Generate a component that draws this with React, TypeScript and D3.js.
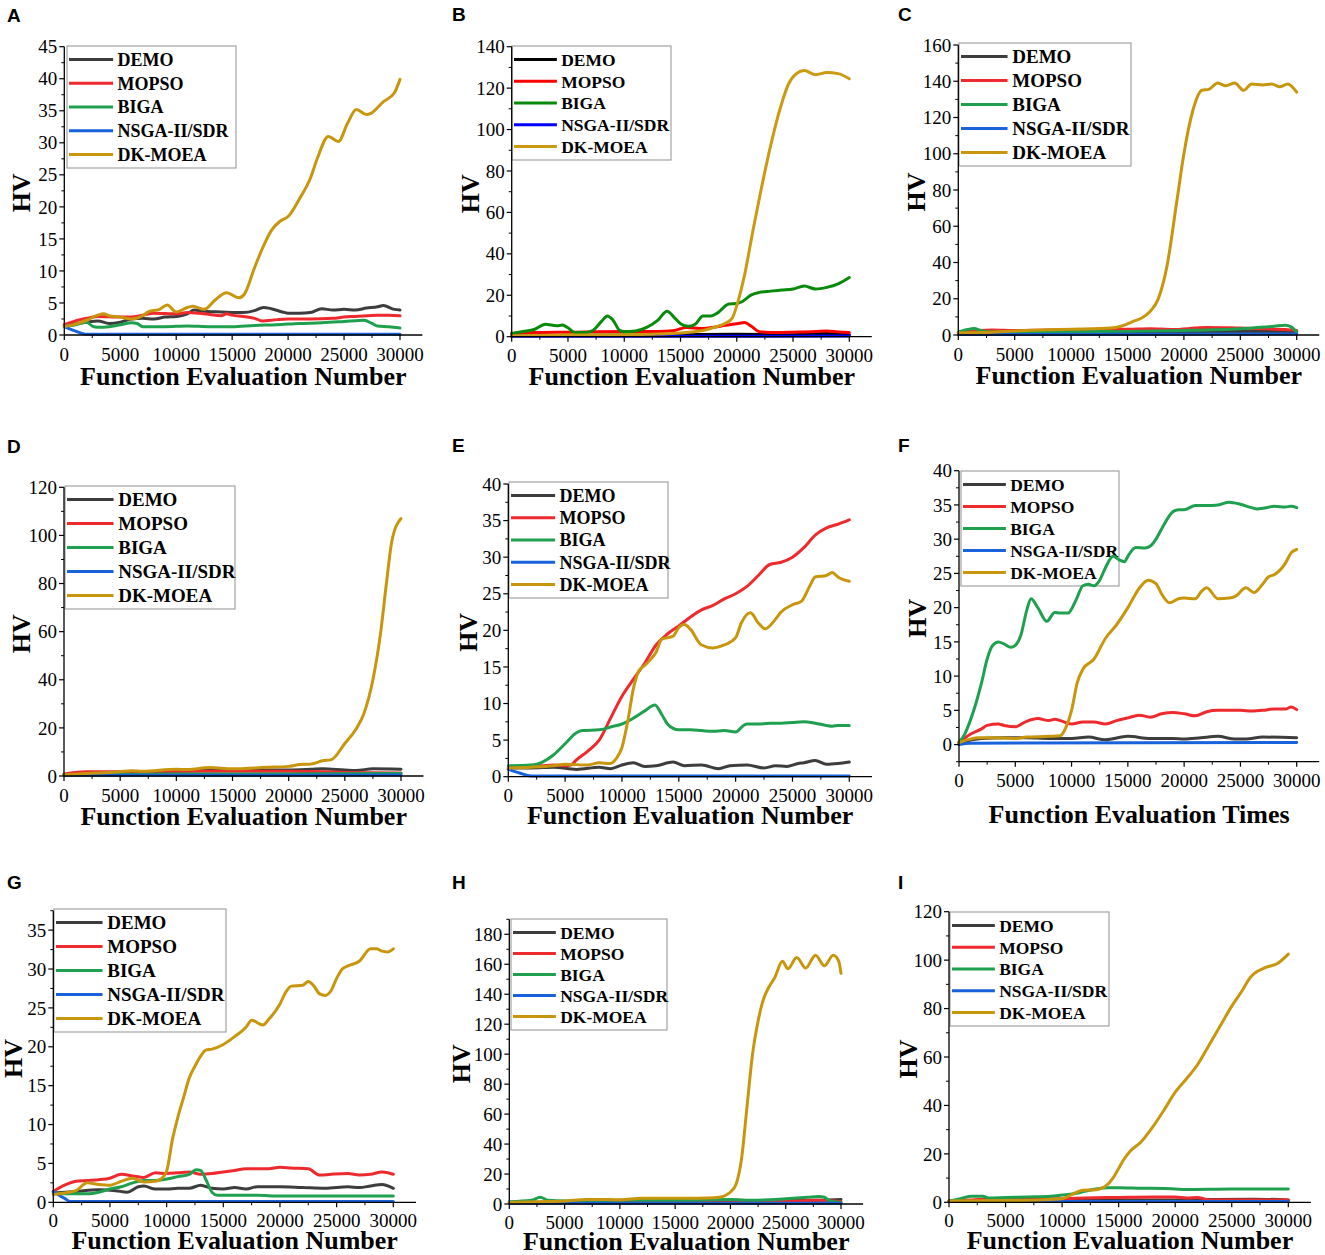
import React from 'react';
import * as d3 from 'd3';

type Pt = [number, number];

const ALGORITHMS = ['DEMO', 'MOPSO', 'BIGA', 'NSGA-II/SDR', 'DK-MOEA'];
const COLORS = ['#3d3d3d', '#ee2a2e', '#1fa04f', '#1862db', '#c8960c'];
const COLORS_B = ['#000000', '#ff0000', '#0a8a0a', '#0000ff', '#cc9a10'];
const X_TICKS = [0, 5000, 10000, 15000, 20000, 25000, 30000];

// ---- A
const A_YTICKS = [0, 5, 10, 15, 20, 25, 30, 35, 40, 45];
const A_DEMO: Pt[] = [[0, 1.5], [1000, 1.7], [2000, 2.0], [3000, 2.2], [4000, 1.8], [5000, 2.0], [6000, 2.5], [7000, 2.6], [8000, 2.5], [9000, 2.8], [10000, 2.9], [11000, 3.3], [11600, 3.9], [12500, 3.7], [14000, 3.6], [16000, 3.5], [17000, 3.8], [17800, 4.3], [18500, 4.1], [19500, 3.6], [20000, 3.4], [21000, 3.4], [22000, 3.5], [23000, 4.1], [24000, 3.9], [25000, 4.0], [26000, 3.9], [27000, 4.2], [28000, 4.4], [28500, 4.6], [29500, 4.0], [30000, 3.9]];
const A_MOPSO: Pt[] = [[0, 1.6], [1000, 2.2], [2000, 2.6], [3000, 2.9], [5000, 2.8], [6000, 2.8], [7000, 3.1], [8000, 3.4], [10000, 3.3], [11000, 3.5], [12000, 3.4], [13000, 3.2], [14000, 3.0], [14500, 3.3], [15000, 3.1], [16000, 2.9], [17000, 2.6], [17700, 2.2], [19000, 2.4], [20000, 2.5], [22000, 2.5], [24000, 2.6], [25000, 2.8], [26000, 2.9], [28000, 3.1], [29000, 3.1], [30000, 3.0]];
const A_BIGA: Pt[] = [[0, 1.3], [1000, 1.6], [2000, 2.0], [2500, 1.4], [3000, 1.2], [4000, 1.3], [5000, 1.6], [6000, 1.9], [6500, 1.8], [7000, 1.3], [9000, 1.3], [11000, 1.4], [13000, 1.3], [15000, 1.3], [17000, 1.5], [19000, 1.6], [21000, 1.8], [23000, 1.9], [25000, 2.1], [26800, 2.3], [27500, 1.8], [28000, 1.4], [29000, 1.3], [30000, 1.1]];
const A_NSGA: Pt[] = [[0, 1.3], [1000, 0.6], [2000, 0.1], [30000, 0.1]];
const A_DKMOEA: Pt[] = [[0, 1.3], [1000, 1.7], [2000, 2.3], [3000, 3.1], [3500, 3.3], [4000, 3.0], [5000, 2.8], [6000, 2.5], [7000, 3.0], [7500, 3.6], [8500, 4.0], [9200, 4.7], [10000, 3.6], [11000, 4.3], [11500, 4.5], [12500, 4.0], [13500, 5.5], [14500, 6.6], [15600, 5.8], [16100, 6.4], [17000, 10.5], [17700, 13.5], [18500, 16.3], [19300, 17.8], [20000, 18.5], [21000, 21.2], [22000, 24.5], [22600, 27.5], [23600, 31], [24500, 30.2], [25300, 33], [26100, 35.2], [27000, 34.4], [27400, 34.6], [28500, 36.4], [29500, 37.8], [30000, 39.9]];

// ---- B
const B_YTICKS = [0, 20, 40, 60, 80, 100, 120, 140];
const B_DEMO: Pt[] = [[0, 0.5], [10000, 0.8], [20000, 1.2], [25000, 1.0], [28000, 1.5], [30000, 1.0]];
const B_MOPSO: Pt[] = [[0, 1.5], [2000, 2.0], [5000, 2.2], [10000, 2.5], [13000, 2.5], [14500, 3.0], [15500, 4.5], [17000, 4.0], [18000, 4.6], [19000, 5.5], [20000, 6.2], [20700, 6.8], [21300, 5.0], [22000, 2.4], [23000, 2.0], [25000, 2.2], [27000, 2.5], [28000, 2.8], [29000, 2.3], [30000, 2.0]];
const B_BIGA: Pt[] = [[0, 1.5], [1000, 2.5], [2000, 3.5], [3000, 6.0], [4000, 5.3], [4500, 5.6], [5000, 4.3], [5600, 2.0], [6500, 2.0], [7200, 3.0], [8000, 7.5], [8500, 10.0], [9000, 8.0], [9600, 3.0], [10000, 2.5], [11000, 2.8], [12000, 4.5], [13000, 8.0], [13800, 12.3], [14500, 9.0], [15000, 6.3], [15700, 5.0], [16300, 6.0], [17000, 10.0], [17700, 10.0], [18300, 11.5], [19300, 15.8], [20000, 16.0], [20500, 17.0], [21300, 20.2], [22000, 21.4], [23000, 22.0], [24000, 22.5], [25000, 23.0], [26000, 24.5], [27000, 23.0], [28000, 23.8], [29000, 25.5], [30000, 28.6]];
const B_NSGA: Pt[] = [[0, 0.2], [30000, 0.3]];
const B_DKMOEA: Pt[] = [[0, 0.5], [5000, 0.8], [10000, 1.0], [13000, 1.3], [15000, 1.8], [16000, 2.3], [17000, 3.0], [18000, 4.5], [19000, 6.5], [19600, 9], [20000, 15], [20700, 30], [21500, 53], [22200, 72], [23000, 92], [23900, 111], [24600, 122], [25300, 127], [26000, 128.5], [27000, 126.5], [28000, 127.5], [29000, 127], [30000, 124.5]];

// ---- C
const C_YTICKS = [0, 20, 40, 60, 80, 100, 120, 140, 160];
const C_DEMO: Pt[] = [[0, 1.5], [10000, 1.8], [20000, 2.0], [30000, 2.0]];
const C_MOPSO: Pt[] = [[0, 1.5], [3000, 2.8], [5000, 2.5], [10000, 3.0], [15000, 3.2], [17000, 3.5], [19000, 3.0], [21000, 3.8], [22000, 4.2], [25000, 3.8], [27000, 3.5], [29000, 3.0], [30000, 2.5]];
const C_BIGA: Pt[] = [[0, 1.5], [800, 3.0], [1400, 3.6], [2000, 2.5], [2600, 1.8], [5000, 1.5], [10000, 1.8], [15000, 2.0], [20000, 2.5], [25000, 3.5], [28000, 4.8], [29000, 5.4], [29500, 4.5], [30000, 1.5]];
const C_NSGA: Pt[] = [[0, 0.3], [30000, 0.5]];
const C_DKMOEA: Pt[] = [[0, 1.2], [3000, 1.5], [6000, 2.5], [9000, 3.0], [12000, 3.5], [13500, 3.8], [14500, 5], [15500, 7.5], [16300, 9.5], [17000, 13], [17700, 19.5], [18500, 38], [19400, 75], [20000, 100], [20800, 124], [21600, 135], [22200, 135.5], [23000, 139], [23700, 137.5], [24500, 139], [25300, 135], [26000, 138.5], [27000, 138], [27800, 138.5], [28500, 137], [29200, 138.5], [30000, 134]];

// ---- D
const D_YTICKS = [0, 20, 40, 60, 80, 100, 120];
const D_DEMO: Pt[] = [[0, 0.5], [5000, 1.5], [10000, 2.0], [15000, 2.5], [20000, 2.5], [22000, 2.8], [23000, 3.0], [25000, 2.5], [26000, 2.3], [27500, 3.0], [30000, 2.8]];
const D_MOPSO: Pt[] = [[0, 0.8], [2000, 1.8], [5000, 1.8], [10000, 2.0], [15000, 2.0], [20000, 2.0], [25000, 1.5], [30000, 1.2]];
const D_BIGA: Pt[] = [[0, 0.5], [10000, 0.8], [30000, 1.0]];
const D_NSGA: Pt[] = [[0, 0.3], [30000, 0.4]];
const D_DKMOEA: Pt[] = [[0, 0.5], [2000, 1], [5000, 1.8], [6000, 2.2], [7000, 2.0], [10000, 2.8], [11000, 2.7], [13000, 3.5], [15000, 3.0], [18000, 3.6], [20000, 4.0], [21000, 4.8], [22000, 5.0], [23000, 6.3], [23800, 6.8], [25000, 13.5], [26000, 19.5], [26700, 26], [27500, 40], [28200, 60], [28700, 80], [29200, 98], [30000, 107]];

// ---- E
const E_YTICKS = [0, 5, 10, 15, 20, 25, 30, 35, 40];
const E_DEMO: Pt[] = [[0, 1.2], [2000, 1.2], [4000, 1.3], [6000, 1.0], [8000, 1.3], [9000, 1.1], [10000, 1.6], [11000, 1.9], [12000, 1.4], [13000, 1.5], [14500, 2.0], [15500, 1.5], [17000, 1.6], [18500, 1.1], [19500, 1.5], [21000, 1.6], [22500, 1.2], [23500, 1.5], [24500, 1.4], [25500, 1.8], [26000, 1.9], [27000, 2.2], [28000, 1.7], [29000, 1.8], [30000, 2.0]];
const E_MOPSO: Pt[] = [[0, 1.2], [2000, 1.4], [3000, 1.5], [4000, 1.6], [5000, 1.5], [5500, 1.6], [6000, 2.3], [7000, 3.5], [8000, 5], [9000, 8], [10000, 11], [11000, 13.3], [12000, 15.5], [13000, 18], [14000, 19.5], [15000, 20.6], [16000, 21.8], [17000, 22.8], [18000, 23.4], [19000, 24.3], [20000, 25], [21000, 26], [22000, 27.5], [23000, 29], [24000, 29.3], [25000, 30], [26000, 31.3], [27000, 33], [28000, 34], [29000, 34.5], [30000, 35.1]];
const E_BIGA: Pt[] = [[0, 1.5], [2000, 1.6], [2500, 1.7], [3000, 2.0], [4000, 3.0], [5000, 4.5], [6000, 6.0], [6500, 6.3], [8000, 6.4], [9000, 6.8], [10000, 7.2], [11000, 8.0], [12000, 9.0], [12900, 9.8], [13500, 8.5], [14000, 7.2], [14500, 6.6], [15000, 6.4], [16000, 6.4], [17000, 6.3], [18000, 6.2], [19000, 6.3], [20000, 6.1], [20700, 7.0], [21000, 7.2], [22000, 7.2], [23000, 7.3], [24000, 7.3], [25000, 7.4], [26000, 7.5], [27000, 7.3], [28000, 7.0], [28500, 6.9], [29000, 7.0], [30000, 7.0]];
const E_NSGA: Pt[] = [[0, 1.0], [1000, 0.5], [2000, 0.1], [30000, 0.1]];
const E_DKMOEA: Pt[] = [[0, 1.2], [2000, 1.3], [4000, 1.5], [5000, 1.7], [7000, 1.6], [8000, 1.9], [9000, 1.8], [9500, 2.5], [10000, 4], [10500, 7.5], [11000, 12], [11500, 14.5], [12000, 15.2], [12500, 16], [13000, 17], [13500, 18.8], [14500, 19.2], [15000, 20.4], [15500, 20.8], [16000, 20.2], [17000, 18], [18000, 17.6], [19000, 18], [20000, 19], [20500, 21], [21300, 22.4], [22000, 21], [22600, 20.2], [23500, 21.5], [24000, 22.5], [25000, 23.5], [25800, 24], [26500, 26], [27000, 27.3], [28000, 27.5], [28500, 27.9], [29000, 27.3], [30000, 26.7]];

// ---- F
const F_YTICKS = [0, 5, 10, 15, 20, 25, 30, 35, 40];
const F_DEMO: Pt[] = [[0, 0.3], [2000, 0.9], [4000, 1.0], [6000, 1.0], [8000, 0.9], [10000, 0.9], [11500, 1.1], [13000, 0.7], [15000, 1.2], [17000, 0.9], [19000, 0.9], [20000, 0.8], [21500, 1.0], [23000, 1.2], [24500, 0.8], [25500, 0.8], [27000, 1.1], [30000, 1.0]];
const F_MOPSO: Pt[] = [[0, 0.3], [1000, 1.5], [2000, 2.3], [2500, 2.8], [3500, 3.0], [4000, 2.8], [5000, 2.6], [6000, 3.4], [7000, 3.8], [8000, 3.5], [8500, 3.7], [9000, 3.5], [10000, 3.0], [11000, 3.3], [12000, 3.3], [13000, 3.0], [14000, 3.5], [15000, 3.9], [16000, 4.3], [17000, 4.0], [18000, 4.5], [19000, 4.7], [20000, 4.5], [21000, 4.2], [22000, 4.8], [23000, 5.0], [25000, 5.0], [26000, 4.9], [27000, 5.0], [28000, 5.2], [29000, 5.2], [29500, 5.5], [30000, 5.1]];
const F_BIGA: Pt[] = [[0, 0.3], [500, 1.5], [1000, 3.5], [1500, 6], [2000, 9], [2500, 12.5], [3000, 14.5], [3500, 15], [4000, 14.7], [4600, 14.2], [5000, 14.5], [5500, 16], [6000, 19.5], [6400, 21.3], [7000, 20], [7800, 18], [8500, 19.3], [9000, 19.2], [9700, 19.2], [10000, 19.8], [10500, 21.5], [11000, 23.2], [11500, 23.4], [12000, 23.2], [12500, 24], [13000, 25.8], [13700, 27.5], [14200, 27], [14700, 26.7], [15000, 27.5], [15700, 28.8], [16500, 28.7], [17000, 29], [17500, 30], [18000, 31.5], [19000, 34], [19500, 34.3], [20000, 34.3], [21000, 34.9], [22000, 34.9], [23000, 35], [24000, 35.4], [25000, 35.1], [26000, 34.6], [26500, 34.4], [27000, 34.5], [28000, 34.8], [29000, 34.7], [29500, 34.8], [30000, 34.6]];
const F_NSGA: Pt[] = [[0, 0.0], [1000, 0.2], [30000, 0.3]];
const F_DKMOEA: Pt[] = [[0, 0.3], [1000, 0.8], [1700, 1.0], [3000, 1.0], [5000, 0.9], [6000, 1.1], [8000, 1.2], [9000, 1.3], [9500, 2.5], [10000, 5], [10500, 9], [11000, 11], [12000, 12.5], [13000, 15.5], [14000, 17.5], [15000, 20], [16000, 22.8], [16800, 24], [17500, 23.5], [18000, 22], [18700, 20.7], [19500, 21.3], [20000, 21.4], [21000, 21.3], [21500, 22.3], [22000, 22.9], [23000, 21.3], [24000, 21.4], [24500, 21.6], [25500, 22.9], [26200, 22.2], [27000, 23.5], [27500, 24.5], [28000, 24.8], [29000, 26.5], [29500, 28], [30000, 28.5]];

// ---- G
const G_YTICKS = [0, 5, 10, 15, 20, 25, 30, 35];
const G_DEMO: Pt[] = [[0, 1.2], [2000, 1.4], [4000, 1.6], [5500, 1.5], [6500, 1.3], [7500, 2.0], [8000, 2.1], [9000, 1.7], [10000, 1.7], [11000, 1.8], [12000, 1.8], [13000, 2.2], [14000, 1.8], [15000, 1.7], [16000, 1.9], [17000, 1.7], [18000, 2.0], [20000, 2.0], [22000, 1.9], [24000, 1.8], [26000, 2.0], [27000, 1.9], [28000, 2.1], [29000, 2.3], [30000, 1.8]];
const G_MOPSO: Pt[] = [[0, 1.4], [1000, 2.2], [2000, 2.7], [3000, 2.8], [4000, 2.9], [5000, 3.1], [6000, 3.6], [7000, 3.4], [8000, 3.2], [9000, 3.8], [10000, 3.7], [11000, 3.8], [12000, 3.9], [13000, 3.6], [14000, 3.7], [15000, 3.9], [16000, 4.1], [17000, 4.3], [19000, 4.3], [20000, 4.5], [21000, 4.4], [22500, 4.3], [23500, 3.5], [24500, 3.6], [26000, 3.7], [27000, 3.5], [28000, 3.6], [29000, 3.9], [30000, 3.6]];
const G_BIGA: Pt[] = [[0, 1.2], [1000, 1.1], [3000, 1.1], [4000, 1.3], [5000, 1.7], [6000, 2.0], [7000, 2.5], [8000, 2.8], [9000, 2.8], [10000, 3.0], [11000, 3.3], [12000, 3.6], [12600, 4.2], [13000, 4.1], [13500, 2.8], [14000, 1.3], [14500, 0.9], [16000, 0.9], [18000, 0.9], [20000, 0.8], [30000, 0.8]];
const G_NSGA: Pt[] = [[0, 1.4], [1000, 0.5], [1500, 0.1], [30000, 0.1]];
const G_DKMOEA: Pt[] = [[0, 1.0], [1000, 1.2], [2000, 1.5], [3000, 2.5], [4000, 2.3], [5000, 2.2], [6000, 2.7], [7000, 3.1], [8000, 2.6], [9000, 2.7], [9500, 3.0], [10000, 4], [10500, 8], [11000, 11], [11500, 13.5], [12000, 16], [12500, 17.5], [13000, 18.8], [13500, 19.6], [14000, 19.7], [15000, 20.3], [16000, 21.3], [17000, 22.5], [17500, 23.4], [18500, 22.8], [19000, 23.5], [20000, 25.5], [20500, 27], [21000, 27.8], [22000, 27.9], [22500, 28.4], [23000, 27.8], [23500, 26.8], [24000, 26.6], [24500, 27.2], [25000, 28.8], [25500, 30], [26000, 30.4], [27000, 31], [28000, 32.6], [28500, 32.6], [29000, 32.3], [29500, 32.2], [30000, 32.6]];

// ---- H
const H_YTICKS = [0, 20, 40, 60, 80, 100, 120, 140, 160, 180];
const H_DEMO: Pt[] = [[0, 1.0], [10000, 1.5], [20000, 2.0], [28000, 2.5], [30000, 3.0]];
const H_MOPSO: Pt[] = [[0, 1.0], [10000, 1.5], [20000, 2.5], [25000, 2.0], [28000, 2.5], [30000, 1.5]];
const H_BIGA: Pt[] = [[0, 1.5], [2000, 2.5], [2800, 4.5], [3500, 2.5], [5000, 2.0], [10000, 2.5], [15000, 2.5], [20000, 3.0], [22000, 2.5], [25000, 3.5], [27000, 4.5], [28000, 5.0], [28500, 4.5], [29000, 2.0], [30000, 1.0]];
const H_NSGA: Pt[] = [[0, 0.5], [30000, 0.5]];
const H_DKMOEA: Pt[] = [[0, 1.0], [3000, 1.5], [5000, 2.0], [7000, 3.0], [9000, 3.0], [10000, 2.8], [12000, 3.8], [14000, 3.8], [16000, 3.8], [18000, 4.0], [19000, 4.5], [19500, 5.5], [20000, 8], [20500, 13], [21000, 30], [21500, 65], [22000, 100], [22500, 122], [23000, 137], [23500, 145], [24000, 151], [24700, 162], [25200, 157], [26000, 164.5], [26800, 157.5], [27700, 166], [28500, 159], [29300, 166], [29800, 162], [30000, 154]];

// ---- I
const I_YTICKS = [0, 20, 40, 60, 80, 100, 120];
const I_DEMO: Pt[] = [[0, 0.5], [10000, 1.0], [20000, 1.0], [27000, 1.3], [30000, 1.0]];
const I_MOPSO: Pt[] = [[0, 0.5], [2000, 1.0], [4000, 1.5], [10000, 1.5], [12000, 1.8], [15000, 2.0], [18000, 2.2], [20000, 2.2], [21000, 1.8], [22000, 2.0], [22500, 1.5], [23000, 1.0], [30000, 1.0]];
const I_BIGA: Pt[] = [[0, 0.5], [1000, 1.5], [2000, 2.5], [3000, 2.5], [3500, 1.8], [5000, 2.0], [7000, 2.2], [9000, 2.5], [10000, 3.0], [11000, 3.5], [12000, 4.5], [13000, 5.5], [14000, 6.0], [15000, 6.0], [17000, 5.8], [19000, 5.7], [20000, 5.5], [21000, 5.3], [25000, 5.5], [30000, 5.5]];
const I_NSGA: Pt[] = [[0, 0.3], [30000, 0.3]];
const I_DKMOEA: Pt[] = [[0, 0.5], [5000, 0.7], [8000, 1.0], [10000, 1.5], [11000, 3.5], [11800, 5], [13000, 5.2], [13800, 6.5], [14500, 10], [15000, 14], [15500, 18], [16000, 21], [17000, 25], [18000, 31], [19000, 38], [20000, 45.5], [21000, 51], [22000, 57], [23000, 65], [24000, 73], [25000, 81], [26000, 88], [26500, 92], [27000, 94.5], [28000, 97], [29000, 98.5], [30000, 102.5]];

interface PanelSpec {
  letter: string;
  letterPos: [number, number];
  series: Pt[][];
  colors: string[];
  yTicks: number[];
  yDomain: [number, number];
  yRange: [number, number]; // px for yDomain[0], yDomain[1]
  ox: number;
  x30: number;
  legend: { x: number; y: number; w: number; h: number; fs: number };
  xTitle: string;
  tickDy: number;
  titleDy: number;
  hvDx: number;
}

const PANELS: PanelSpec[] = [
  { letter: 'A', letterPos: [7, 22], series: [A_DEMO, A_MOPSO, A_BIGA, A_NSGA, A_DKMOEA], colors: COLORS, yTicks: A_YTICKS, yDomain: [0, 45], yRange: [335, 46.7], ox: 64.3, x30: 400, legend: { x: 67, y: 46, w: 169, h: 122, fs: 18 }, xTitle: 'Function Evaluation Number', tickDy: 26, titleDy: 50, hvDx: -43 },
  { letter: 'B', letterPos: [452, 21], series: [B_DEMO, B_MOPSO, B_BIGA, B_NSGA, B_DKMOEA], colors: COLORS_B, yTicks: B_YTICKS, yDomain: [0, 140], yRange: [336.7, 46.7], ox: 511.7, x30: 849.3, legend: { x: 512, y: 46, w: 159, h: 114, fs: 17.5 }, xTitle: 'Function Evaluation Number', tickDy: 25, titleDy: 48, hvDx: -42 },
  { letter: 'C', letterPos: [898, 21], series: [C_DEMO, C_MOPSO, C_BIGA, C_NSGA, C_DKMOEA], colors: COLORS, yTicks: C_YTICKS, yDomain: [0, 160], yRange: [335, 45], ox: 958.3, x30: 1296.7, legend: { x: 959, y: 43, w: 172, h: 123, fs: 19 }, xTitle: 'Function Evaluation Number', tickDy: 26, titleDy: 49, hvDx: -42 },
  { letter: 'D', letterPos: [7, 453], series: [D_DEMO, D_MOPSO, D_BIGA, D_NSGA, D_DKMOEA], colors: COLORS, yTicks: D_YTICKS, yDomain: [0, 120], yRange: [776, 487.3], ox: 64, x30: 401, legend: { x: 65, y: 486, w: 170, h: 123, fs: 19 }, xTitle: 'Function Evaluation Number', tickDy: 26, titleDy: 49, hvDx: -43 },
  { letter: 'E', letterPos: [452, 452], series: [E_DEMO, E_MOPSO, E_BIGA, E_NSGA, E_DKMOEA], colors: COLORS, yTicks: E_YTICKS, yDomain: [0, 40], yRange: [776.7, 484], ox: 508.3, x30: 849.3, legend: { x: 509, y: 482, w: 159, h: 116, fs: 18 }, xTitle: 'Function Evaluation Number', tickDy: 25, titleDy: 47, hvDx: -40 },
  { letter: 'F', letterPos: [898, 452], series: [F_DEMO, F_MOPSO, F_BIGA, F_NSGA, F_DKMOEA], colors: COLORS, yTicks: F_YTICKS, yDomain: [-2.5, 40], yRange: [761.7, 470.7], ox: 959, x30: 1296.7, legend: { x: 961, y: 471, w: 158, h: 115, fs: 17.5 }, xTitle: 'Function Evaluation Times', tickDy: 25, titleDy: 61, hvDx: -42 },
  { letter: 'G', letterPos: [7, 889], series: [G_DEMO, G_MOPSO, G_BIGA, G_NSGA, G_DKMOEA], colors: COLORS, yTicks: G_YTICKS, yDomain: [0, 37.5], yRange: [1202.3, 910.7], ox: 53.3, x30: 393.3, legend: { x: 54, y: 909, w: 172, h: 123, fs: 19 }, xTitle: 'Function Evaluation Number', tickDy: 25, titleDy: 47, hvDx: -40 },
  { letter: 'H', letterPos: [452, 889], series: [H_DEMO, H_MOPSO, H_BIGA, H_NSGA, H_DKMOEA], colors: COLORS, yTicks: H_YTICKS, yDomain: [0, 190], yRange: [1204, 919.3], ox: 509.3, x30: 841, legend: { x: 511, y: 919, w: 156, h: 111, fs: 17.5 }, xTitle: 'Function Evaluation Number', tickDy: 25, titleDy: 46, hvDx: -48 },
  { letter: 'I', letterPos: [898, 889], series: [I_DEMO, I_MOPSO, I_BIGA, I_NSGA, I_DKMOEA], colors: COLORS, yTicks: I_YTICKS, yDomain: [0, 120], yRange: [1202.3, 911.7], ox: 949, x30: 1288.3, legend: { x: 950, y: 912, w: 159, h: 114, fs: 17.5 }, xTitle: 'Function Evaluation Number', tickDy: 25, titleDy: 47, hvDx: -41 },
];

const SERIF = '"Liberation Serif", "Times New Roman", serif';

const Panel: React.FC<{ p: PanelSpec }> = ({ p }) => {
  const xEndVal = 32000;
  const pxPerUnit = (p.x30 - p.ox) / 30000;
  const x = d3.scaleLinear().domain([0, xEndVal]).range([p.ox, p.ox + pxPerUnit * xEndVal]);
  const y = d3.scaleLinear().domain(p.yDomain).range(p.yRange);
  const line = d3.line<Pt>().x(d => x(d[0])).y(d => y(d[1])).curve(d3.curveMonotoneX);

  const yBase = y(p.yDomain[0]);
  const yStep = p.yTicks[1] - p.yTicks[0];
  const yMinor = d3.range(p.yTicks[0] - yStep / 2, p.yDomain[1] + 1e-6, yStep).filter(v => v >= p.yDomain[0] - 1e-6);
  const xStep = X_TICKS[1] - X_TICKS[0];
  const xMinor = d3.range(xStep / 2, xEndVal, xStep);
  const L = p.legend;
  const rowGap = (L.h - 27) / 4;
  const yMid = (p.yRange[0] + p.yRange[1]) / 2 + 2;

  return (
    <g>
      <text x={p.letterPos[0]} y={p.letterPos[1]} fontFamily='"Liberation Sans", Arial, sans-serif' fontWeight="bold" fontSize={19}>{p.letter}</text>

      {/* legend */}
      <rect x={L.x} y={L.y} width={L.w} height={L.h} fill="none" stroke="#a3a3a3" strokeWidth={1.2} />
      {ALGORITHMS.map((name, i) => {
        const cy = L.y + 13.5 + i * rowGap;
        return (
          <g key={name}>
            <line x1={L.x + 2} x2={L.x + 2 + L.fs * 2.45} y1={cy} y2={cy} stroke={p.colors[i]} strokeWidth={3} />
            <text x={L.x + L.fs * 2.75 + 1} y={cy} dy="0.36em" fontFamily={SERIF} fontWeight="bold" fontSize={L.fs}>{name}</text>
          </g>
        );
      })}

      {/* series */}
      {p.series.map((s, i) => (
        <path key={i} d={line(s) || ''} fill="none" stroke={p.colors[i]} strokeWidth={3} strokeLinejoin="round" strokeLinecap="round" />
      ))}

      {/* axes */}
      <line x1={p.ox} x2={p.ox} y1={yBase} y2={p.yRange[1]} stroke="#000" strokeWidth={1.3} />
      <line x1={p.ox} x2={x(xEndVal)} y1={yBase} y2={yBase} stroke="#000" strokeWidth={1.3} />
      {p.yTicks.map(v => (
        <g key={'y' + v}>
          <line x1={p.ox - 5} x2={p.ox} y1={y(v)} y2={y(v)} stroke="#000" strokeWidth={1.2} />
          <text x={p.ox - 7} y={y(v)} dy="0.35em" textAnchor="end" fontFamily={SERIF} fontSize={19}>{v}</text>
        </g>
      ))}
      {yMinor.map(v => (
        <line key={'ym' + v} x1={p.ox - 3} x2={p.ox} y1={y(v)} y2={y(v)} stroke="#000" strokeWidth={1} />
      ))}
      {X_TICKS.map(v => (
        <g key={'x' + v}>
          <line x1={x(v)} x2={x(v)} y1={yBase} y2={yBase + 5} stroke="#000" strokeWidth={1.2} />
          <text x={x(v)} y={yBase + p.tickDy} textAnchor="middle" fontFamily={SERIF} fontSize={19}>{v}</text>
        </g>
      ))}
      {xMinor.map(v => (
        <line key={'xm' + v} x1={x(v)} x2={x(v)} y1={yBase} y2={yBase + 3} stroke="#000" strokeWidth={1} />
      ))}
      <text x={(p.ox + x(xEndVal)) / 2} y={yBase + p.titleDy} textAnchor="middle" fontFamily={SERIF} fontWeight="bold" fontSize={26}>{p.xTitle}</text>
      <text transform={`translate(${p.ox + p.hvDx},${yMid}) rotate(-90)`} dy="0.35em" textAnchor="middle" fontFamily={SERIF} fontWeight="bold" fontSize={26}>HV</text>
    </g>
  );
};

export default function App() {
  return (
    <>
      <style>{'body{margin:0;background:#fff}'}</style>
      <svg width={1325} height={1255} viewBox="0 0 1325 1255" style={{ display: 'block', background: '#fff' }}>
        {PANELS.map(p => <Panel key={p.letter} p={p} />)}
      </svg>
    </>
  );
}
